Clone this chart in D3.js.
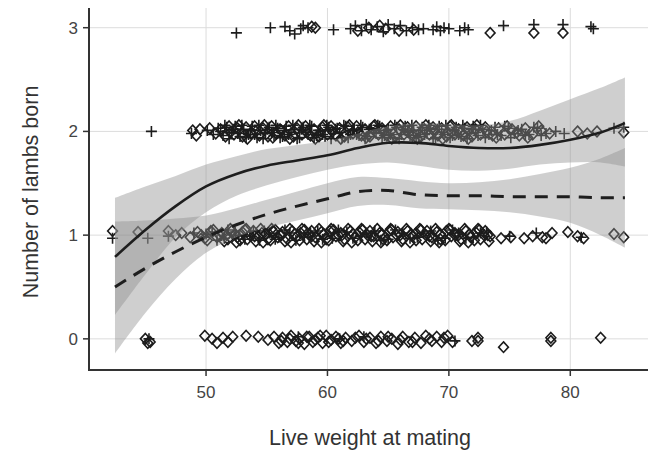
<!DOCTYPE html>
<html>
<head>
<meta charset="utf-8">
<script src="https://cdn.jsdelivr.net/npm/d3@7"></script>
<style>
  body { margin: 0; background: #fff; }
  svg { display: block; font-family: "Liberation Sans", Arial, sans-serif; }
  .grid line { stroke: #dcdcdc; stroke-width: 1; }
  .tickLabel { fill: #444; font-size: 17px; }
  .axisTitle { fill: #333; font-size: 21.5px; }
  .pt { fill: none; stroke: #1c1c1c; stroke-width: 1.6; }
</style>
</head>
<body>
<svg width="648" height="450"></svg>
<script>
var svgWidth = 648;
var svgHeight = 450;

var xTicks = [50, 60, 70, 80];
var yTicks = [0, 1, 2, 3];

// smoothed curves
var curveX      = [42.5, 45, 47.5, 50, 52.5, 55, 57.5, 60, 62.5, 65, 67.5, 70, 72.5, 75, 77.5, 80, 82.5, 84.5];
var solidFit    = [0.79, 1.05, 1.28, 1.47, 1.59, 1.67, 1.72, 1.77, 1.84, 1.89, 1.89, 1.86, 1.84, 1.84, 1.87, 1.92, 1.99, 2.08];
var solidUpper  = [1.36, 1.47, 1.57, 1.68, 1.76, 1.83, 1.87, 1.91, 1.98, 2.05, 2.08, 2.07, 2.06, 2.10, 2.20, 2.31, 2.42, 2.52];
var solidLower  = [0.23, 0.62, 0.98, 1.22, 1.38, 1.48, 1.56, 1.63, 1.68, 1.70, 1.67, 1.63, 1.62, 1.64, 1.68, 1.70, 1.70, 1.66];
var dashFit     = [0.50, 0.68, 0.84, 0.98, 1.10, 1.20, 1.28, 1.35, 1.42, 1.43, 1.39, 1.38, 1.38, 1.37, 1.37, 1.37, 1.36, 1.36];
var dashUpper   = [1.13, 1.14, 1.16, 1.19, 1.26, 1.34, 1.42, 1.50, 1.56, 1.55, 1.52, 1.50, 1.51, 1.54, 1.59, 1.65, 1.74, 1.84];
var dashLower   = [-0.14, 0.25, 0.58, 0.83, 0.98, 1.07, 1.14, 1.21, 1.28, 1.29, 1.26, 1.25, 1.24, 1.22, 1.18, 1.12, 1.00, 0.88];

// observations: [live weight, lambs born (jittered)]
var crosses3 = [[52.5,2.95],[55.3,3.0],[56.5,3.01],[56.9,2.97],[57.3,2.94],[57.8,2.99],[58.0,3.02],[58.4,3.0],[60.5,2.98],[61.9,2.99],[62.3,3.02],[62.8,2.97],[63.2,3.03],[63.6,2.98],[64.1,3.01],[64.6,2.96],[65.0,3.03],[65.5,2.99],[66.0,3.02],[66.5,2.97],[67.0,3.0],[67.5,2.98],[67.9,2.99],[68.7,2.98],[69.0,3.01],[69.3,2.97],[69.6,3.0],[70.0,2.99],[70.9,2.97],[71.3,3.0],[71.6,2.98],[74.5,3.02],[77.0,3.03],[79.4,3.03],[81.7,3.01],[81.9,2.99]];
var diamonds3 = [[58.7,3.01],[59.0,3.0],[62.5,2.97],[63.4,3.0],[64.3,3.02],[64.8,2.99],[65.9,2.97],[67.1,2.98],[73.4,2.95],[77.0,2.95],[79.4,2.95]];

var crosses2 = [[45.5,2.0],[48.8,1.98],[50.1,2.01],[50.6,1.97],[51.0,2.03],[51.4,1.96],[51.7,2.04],[52.1,1.99],[52.4,2.05],[52.8,1.95],[53.1,2.02],[53.5,1.97],[53.8,2.05],[54.2,1.94],[54.5,2.01],[54.9,1.98],[55.2,2.04],[55.6,1.96],[55.9,2.03],[56.3,1.95],[56.6,2.05],[57.0,1.99],[57.3,2.02],[57.7,1.94],[58.0,2.04],[58.4,1.97],[58.7,2.05],[59.1,1.96],[59.4,2.01],[59.8,1.95],[60.1,2.04],[60.5,1.98],[60.8,2.03],[61.2,1.94],[61.5,2.05],[61.9,1.97],[62.2,2.02],[62.6,1.96],[62.9,2.04],[63.3,1.95],[63.6,2.03],[64.0,1.98],[64.3,2.05],[64.7,1.96],[65.0,2.02],[65.4,1.94],[65.7,2.04],[66.1,1.97],[66.4,2.05],[66.8,1.96],[67.1,2.01],[67.5,1.95],[67.8,2.04],[68.2,1.98],[68.5,2.03],[68.9,1.94],[69.2,2.05],[69.6,1.97],[69.9,2.02],[70.3,1.96],[70.6,2.04],[71.0,1.95],[71.3,2.03],[71.7,1.98],[72.0,2.05],[72.4,1.96],[72.8,2.02],[73.3,1.97],[73.8,2.04],[74.3,1.96],[74.9,2.03],[75.4,1.98],[76.0,2.02],[76.6,1.97],[77.3,2.03],[78.0,1.98],[78.8,2.0],[79.5,1.98],[83.6,2.03],[84.4,2.04]];
var crosses2b = [[51.2,2.0],[51.55,2.06],[51.9,1.93],[52.25,2.02],[52.6,1.98],[52.95,2.06],[53.3,1.94],[53.65,2.01],[54.0,1.97],[54.35,2.06],[54.7,1.93],[55.05,2.02],[55.4,1.99],[55.75,2.06],[56.1,1.94],[56.45,2.01],[56.8,1.97],[57.15,2.06],[57.5,1.93],[57.85,2.02],[58.2,1.99],[58.55,2.06],[58.9,1.94],[59.25,2.01],[59.6,1.97],[59.95,2.06],[60.3,1.93],[60.65,2.02],[61.0,1.99],[61.35,2.06],[61.7,1.94],[62.05,2.01],[62.4,1.97],[62.75,2.06],[63.1,1.93],[63.45,2.02],[63.8,1.99],[64.15,2.06],[64.5,1.94],[64.85,2.01],[65.2,1.97],[65.55,2.06],[65.9,1.93],[66.25,2.02],[66.6,1.99],[66.95,2.06],[67.3,1.94],[67.65,2.01],[68.0,1.97],[68.35,2.06],[68.7,1.93],[69.05,2.02],[69.4,1.99],[69.75,2.06],[70.1,1.94],[70.45,2.01],[70.8,1.97],[71.15,2.06],[71.5,1.93],[71.85,2.02],[72.2,1.99],[72.6,2.06],[73.0,1.94],[73.5,2.01],[74.0,1.97],[74.6,2.05],[75.1,1.94],[75.7,2.01],[76.3,1.96],[77.0,2.04],[77.6,1.96]];
var diamonds2 = [[48.9,2.01],[49.2,1.96],[49.5,2.02],[50.3,2.03],[50.8,1.98],[51.2,2.02],[51.6,1.95],[51.9,2.05],[52.3,1.97],[52.6,2.03],[53.0,1.95],[53.3,2.04],[53.7,1.98],[54.0,2.05],[54.4,1.96],[54.7,2.03],[55.1,1.95],[55.4,2.05],[55.8,1.98],[56.1,2.02],[56.5,1.96],[56.8,2.05],[57.2,1.95],[57.5,2.03],[57.9,1.97],[58.2,2.05],[58.6,1.96],[58.9,2.02],[59.3,1.95],[59.6,2.04],[60.0,1.97],[60.3,2.05],[60.7,1.96],[61.0,2.03],[61.4,1.95],[61.7,2.04],[62.1,1.98],[62.4,2.05],[62.8,1.96],[63.1,2.02],[63.5,1.95],[63.8,2.05],[64.2,1.97],[64.5,2.03],[64.9,1.96],[65.2,2.05],[65.6,1.95],[65.9,2.02],[66.3,1.97],[66.6,2.04],[67.0,1.96],[67.3,2.05],[67.7,1.95],[68.0,2.02],[68.4,1.97],[68.7,2.04],[69.1,1.96],[69.4,2.03],[69.8,1.95],[70.1,2.05],[70.5,1.97],[70.8,2.02],[71.2,1.96],[71.5,2.04],[71.9,1.95],[72.2,2.02],[72.6,1.97],[73.0,2.04],[73.6,1.96],[74.1,2.03],[74.6,1.97],[75.2,2.02],[75.8,1.96],[76.3,2.03],[76.9,1.97],[77.6,2.01],[78.3,1.98],[80.6,2.0],[81.4,1.98],[82.2,2.0],[84.4,1.99]];
var diamonds2b = [[52.0,1.99],[52.7,2.06],[53.4,1.93],[54.1,2.0],[54.8,2.06],[55.5,1.94],[56.2,2.01],[56.9,1.93],[57.6,2.06],[58.3,1.99],[59.0,1.93],[59.7,2.06],[60.4,2.0],[61.1,1.93],[61.8,2.06],[62.5,1.99],[63.2,1.94],[63.9,2.06],[64.6,2.0],[65.3,1.93],[66.0,2.06],[66.7,1.99],[67.4,1.93],[68.1,2.06],[68.8,2.0],[69.5,1.93],[70.2,2.06],[70.9,1.99],[71.6,1.93],[72.3,2.06],[73.1,2.0],[73.9,1.94],[74.8,2.05],[75.6,1.99],[76.5,1.94],[77.4,2.05]];

var crosses1 = [[42.3,0.97],[45.2,0.97],[46.9,0.99],[49.0,1.02],[49.8,0.98],[50.5,1.03],[51.5,0.97],[52.4,1.03],[53.6,0.99],[54.8,1.04],[55.7,0.96],[56.9,1.02],[58.1,0.98],[59.2,1.04],[60.4,0.97],[61.6,1.03],[62.7,0.99],[63.9,1.04],[65.0,0.96],[66.2,1.02],[67.4,0.98],[68.5,1.04],[69.7,0.97],[70.8,1.02],[72.0,0.98],[73.1,1.03],[75.0,0.99],[77.2,1.02],[80.9,0.98]];
var crosses1b = [[50.0,1.01],[50.9,0.95],[51.8,1.05],[52.7,1.0],[53.2,0.96],[53.9,1.04],[54.4,0.95],[55.2,1.02],[56.0,0.98],[56.5,1.05],[57.4,0.95],[58.6,1.02],[59.6,0.96],[60.9,1.05],[62.1,0.97],[63.2,1.02],[64.4,0.95],[65.6,1.05],[66.8,0.97],[67.9,1.02],[69.1,0.95],[70.3,1.05],[71.4,0.97],[72.6,1.02]];
var diamonds1 = [[42.3,1.04],[44.4,1.03],[46.9,1.04],[47.5,1.0],[48.0,1.02],[48.7,0.98],[49.3,1.03],[49.9,0.97],[50.4,1.04],[50.9,0.98],[51.3,1.02],[51.8,0.96],[52.1,1.04],[52.6,0.98],[53.0,1.03],[53.4,0.96],[53.9,1.04],[54.3,0.99],[54.6,1.02],[55.1,0.96],[55.5,1.04],[55.9,0.98],[56.3,1.03],[56.7,0.96],[57.1,1.04],[57.5,0.99],[57.8,1.02],[58.3,0.96],[58.7,1.04],[59.0,0.98],[59.5,1.03],[59.9,0.96],[60.2,1.04],[60.7,0.99],[61.1,1.02],[61.4,0.96],[61.9,1.04],[62.3,0.98],[62.6,1.03],[63.1,0.96],[63.5,1.04],[63.8,0.99],[64.3,1.02],[64.6,0.96],[65.1,1.04],[65.4,0.98],[65.8,1.03],[66.2,0.96],[66.6,1.04],[67.0,0.99],[67.3,1.02],[67.8,0.96],[68.2,1.04],[68.6,0.98],[69.0,1.03],[69.3,0.96],[69.8,1.04],[70.2,0.99],[70.5,1.02],[71.0,0.96],[71.4,1.04],[71.8,0.98],[72.2,1.03],[72.6,0.96],[73.0,1.04],[73.4,0.99],[74.3,0.97],[75.1,0.98],[76.2,0.97],[76.9,0.99],[77.7,0.98],[78.0,0.97],[78.5,1.02],[79.8,1.03],[80.6,0.99],[81.1,0.97],[83.6,1.01],[84.4,0.98]];
var diamonds1b = [[49.6,1.0],[50.1,0.95],[50.6,1.05],[51.1,1.0],[51.5,0.94],[52.0,1.06],[52.4,1.01],[52.8,0.95],[53.2,1.05],[53.6,1.0],[54.1,0.94],[54.5,1.06],[54.9,1.01],[55.3,0.95],[55.7,1.05],[56.1,1.0],[56.5,0.94],[56.9,1.06],[57.3,1.01],[57.7,0.95],[58.1,1.05],[58.5,1.0],[58.9,0.94],[59.3,1.06],[59.7,1.01],[60.1,0.95],[60.5,1.05],[60.9,1.0],[61.3,0.94],[61.7,1.06],[62.1,1.01],[62.5,0.95],[62.9,1.05],[63.3,1.0],[63.7,0.94],[64.1,1.06],[64.5,1.01],[64.9,0.95],[65.3,1.05],[65.7,1.0],[66.1,0.94],[66.5,1.06],[66.9,1.01],[67.3,0.95],[67.7,1.05],[68.1,1.0],[68.5,0.94],[68.9,1.06],[69.3,1.01],[69.7,0.95],[70.1,1.05],[70.5,1.0],[70.9,0.94],[71.3,1.06],[71.7,1.01],[72.1,0.95],[72.5,1.05],[72.9,1.0],[73.3,0.94]];
var diamonds1c = [[51.7,1.0],[52.5,0.93],[53.3,1.06],[54.0,0.99],[54.7,0.93],[55.4,1.06],[56.2,1.0],[57.0,0.93],[57.9,1.06],[58.7,0.99],[59.5,0.93],[60.3,1.06],[61.2,1.0],[62.0,0.93],[62.8,1.06],[63.6,0.99],[64.4,0.93],[65.2,1.06],[66.0,1.0],[66.8,0.93],[67.6,1.06],[68.4,0.99],[69.2,0.93],[70.0,1.06],[70.8,1.0],[71.6,0.93],[72.4,1.06],[73.2,1.0]];

var crosses0 = [[45.3,0.0],[57.6,0.02],[61.0,0.0],[63.0,0.02],[70.5,-0.02]];
var diamonds0 = [[45.0,0.0],[45.4,-0.03],[45.2,-0.04],[49.9,0.03],[50.5,0.0],[50.9,-0.04],[51.4,0.01],[51.8,-0.03],[52.2,0.02],[53.3,0.03],[54.3,0.02],[55.1,-0.01],[55.6,0.02],[56.0,-0.04],[56.3,0.01],[56.7,-0.03],[57.0,0.03],[57.4,-0.02],[57.7,0.0],[58.1,-0.05],[58.5,0.02],[58.8,-0.03],[59.2,0.01],[59.6,-0.04],[59.9,0.03],[60.3,-0.01],[60.7,0.02],[61.1,-0.04],[61.5,0.01],[62.0,-0.02],[62.6,0.03],[63.0,-0.03],[63.5,0.01],[64.0,-0.04],[64.4,0.02],[64.9,-0.02],[65.3,0.0],[65.8,-0.05],[66.2,0.02],[66.7,-0.03],[67.2,0.01],[67.7,-0.04],[68.1,0.03],[68.6,-0.02],[69.0,0.02],[69.4,-0.03],[69.9,0.03],[70.3,-0.03],[72.4,-0.02],[72.4,0.01],[74.5,-0.08],[78.4,-0.02],[78.4,0.01],[82.5,0.01]];
var diamonds0b = [[56.2,-0.02],[56.9,0.0],[57.6,-0.04],[58.3,0.02],[59.0,-0.01],[59.4,0.03],[60.1,-0.03],[60.9,0.0],[61.3,-0.02],[62.3,0.01],[63.2,0.0],[64.2,-0.02],[65.0,0.02],[66.0,-0.01],[67.0,-0.03],[68.4,0.0],[69.6,0.01],[71.9,-0.02]];

var xScale = d3.scaleLinear().domain([40.36, 86.4]).range([89, 648]);
var yScale = d3.scaleLinear().domain([-0.31, 3.19]).range([371, 8]);

var svg = d3.select('svg');

// grid
var grid = svg.append('g').attr('class', 'grid');
grid.selectAll('.vg').data(xTicks).enter().append('line')
  .attr('x1', d => xScale(d)).attr('x2', d => xScale(d))
  .attr('y1', 8).attr('y2', 370);
grid.selectAll('.hg').data(yTicks).enter().append('line')
  .attr('x1', 89).attr('x2', 648)
  .attr('y1', d => yScale(d)).attr('y2', d => yScale(d));

// points
var crossPath = 'M-5.5,0H5.5M0,-5.5V5.5';
var diamondPath = 'M0,-5.3L4.9,0L0,5.3L-4.9,0Z';
var pts = svg.append('g');
function drawPoints(data, path) {
  pts.selectAll(null).data(data).enter().append('path')
    .attr('class', 'pt')
    .attr('d', path)
    .attr('transform', d => 'translate(' + xScale(d[0]) + ',' + yScale(d[1]) + ')');
}
drawPoints(diamonds0, diamondPath); drawPoints(diamonds0b, diamondPath); drawPoints(crosses0, crossPath);
drawPoints(diamonds1, diamondPath); drawPoints(diamonds1b, diamondPath); drawPoints(diamonds1c, diamondPath);
drawPoints(crosses1, crossPath); drawPoints(crosses1b, crossPath);
drawPoints(diamonds2, diamondPath); drawPoints(diamonds2b, diamondPath);
drawPoints(crosses2, crossPath); drawPoints(crosses2b, crossPath);
drawPoints(diamonds3, diamondPath); drawPoints(crosses3, crossPath);

// confidence bands
var area = d3.area()
  .x((d, i) => xScale(curveX[i]))
  .y0(d => yScale(d[0]))
  .y1(d => yScale(d[1]))
  .curve(d3.curveCatmullRom);
svg.append('path')
  .datum(solidLower.map((v, i) => [v, solidUpper[i]]))
  .attr('d', area).attr('fill', '#8c8c8c').attr('fill-opacity', 0.42);
svg.append('path')
  .datum(dashLower.map((v, i) => [v, dashUpper[i]]))
  .attr('d', area).attr('fill', '#8c8c8c').attr('fill-opacity', 0.42);

// fitted lines
var line = d3.line()
  .x((d, i) => xScale(curveX[i]))
  .y(d => yScale(d))
  .curve(d3.curveCatmullRom);
svg.append('path').datum(solidFit).attr('d', line)
  .attr('fill', 'none').attr('stroke', '#1e1e1e').attr('stroke-width', 2.6);
svg.append('path').datum(dashFit).attr('d', line)
  .attr('fill', 'none').attr('stroke', '#1e1e1e').attr('stroke-width', 3)
  .attr('stroke-dasharray', '13,9');

// axes
svg.append('line').attr('x1', 89).attr('x2', 89).attr('y1', 8).attr('y2', 371)
  .attr('stroke', '#333').attr('stroke-width', 2);
svg.append('line').attr('x1', 88).attr('x2', 648).attr('y1', 370).attr('y2', 370)
  .attr('stroke', '#333').attr('stroke-width', 2);

svg.selectAll('.xt').data(xTicks).enter().append('line')
  .attr('x1', d => xScale(d)).attr('x2', d => xScale(d))
  .attr('y1', 370).attr('y2', 376).attr('stroke', '#333').attr('stroke-width', 1.5);
svg.selectAll('.yt').data(yTicks).enter().append('line')
  .attr('x1', 83).attr('x2', 89)
  .attr('y1', d => yScale(d)).attr('y2', d => yScale(d)).attr('stroke', '#333').attr('stroke-width', 1.5);

svg.selectAll('.xl').data(xTicks).enter().append('text')
  .attr('class', 'tickLabel').attr('text-anchor', 'middle')
  .attr('x', d => xScale(d)).attr('y', 398).text(d => d);
svg.selectAll('.yl').data(yTicks).enter().append('text')
  .attr('class', 'tickLabel').attr('text-anchor', 'end')
  .attr('x', 78).attr('y', d => yScale(d) + 6).text(d => d);

svg.append('text').attr('class', 'axisTitle').attr('text-anchor', 'middle')
  .attr('x', 370).attr('y', 445).text('Live weight at mating');
svg.append('text').attr('class', 'axisTitle').attr('text-anchor', 'middle')
  .attr('transform', 'translate(38,192)rotate(-90)').text('Number of lambs born');
</script>
</body>
</html>
